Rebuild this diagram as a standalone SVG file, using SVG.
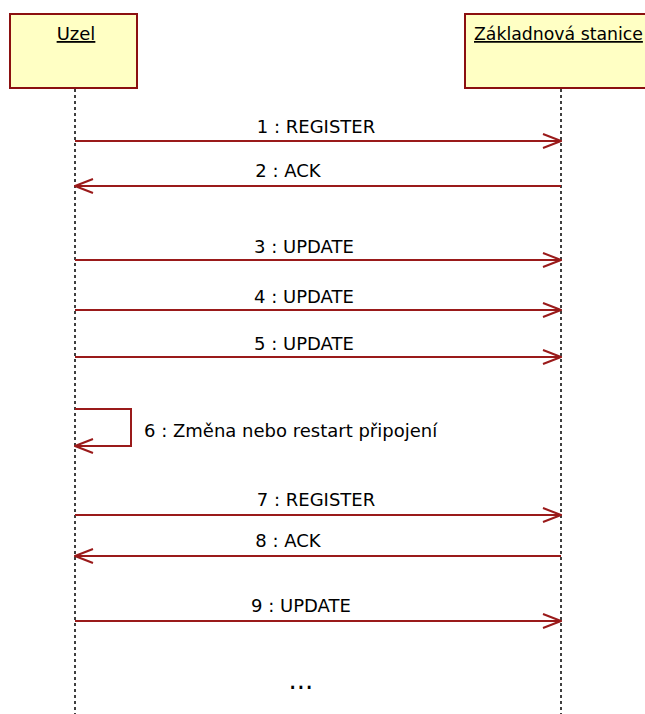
<svg xmlns="http://www.w3.org/2000/svg" width="645" height="714" viewBox="0 0 645 714">
<style>
.box{fill:#FFFFC4;stroke:#8B1010;stroke-width:2}
.life{stroke:#000;stroke-width:1.5;stroke-dasharray:3,3;fill:none}
.msg{stroke:#9A1A1A;stroke-width:2;fill:none}
.t{font-family:"DejaVu Sans",Verdana,sans-serif;font-size:18px;fill:#000}
.title{font-family:"DejaVu Sans",Verdana,sans-serif;font-size:18px;fill:#000;text-decoration:underline}
</style>
<defs>
<marker id="ah" viewBox="0 0 20 16" refX="19" refY="8" markerWidth="20" markerHeight="16" markerUnits="userSpaceOnUse" orient="auto">
<path d="M1,1 L19,8 L1,15" fill="none" stroke="#9A1A1A" stroke-width="2"/>
</marker>
</defs>
<rect width="645" height="714" fill="#fff"/>
<g id="lifelines">
<line class="life" x1="75" y1="89" x2="75" y2="714"/>
<line class="life" x1="561" y1="89" x2="561" y2="714"/>
</g>
<g id="uzel">
<rect class="box" x="10" y="14" width="127" height="74"/>
<text class="title" x="76" y="40" text-anchor="middle">Uzel</text>
</g>
<g id="zakladnova">
<rect class="box" x="465" y="14" width="190" height="74"/>
<text class="title" x="474" y="40" style="font-size:17.3px">Základnová stanice</text>
</g>
<g id="connectors">
<line class="msg" x1="75" y1="141" x2="561" y2="141" marker-end="url(#ah)"/>
<line class="msg" x1="561" y1="186" x2="75" y2="186" marker-end="url(#ah)"/>
<line class="msg" x1="75" y1="260" x2="561" y2="260" marker-end="url(#ah)"/>
<line class="msg" x1="75" y1="310" x2="561" y2="310" marker-end="url(#ah)"/>
<line class="msg" x1="75" y1="357" x2="561" y2="357" marker-end="url(#ah)"/>
<polyline class="msg" points="75,409 131,409 131,446 75,446" marker-end="url(#ah)"/>
<line class="msg" x1="75" y1="515" x2="561" y2="515" marker-end="url(#ah)"/>
<line class="msg" x1="561" y1="556" x2="75" y2="556" marker-end="url(#ah)"/>
<line class="msg" x1="75" y1="621" x2="561" y2="621" marker-end="url(#ah)"/>
</g>
<g id="labels">
<text class="t" x="316" y="133" text-anchor="middle">1 : REGISTER</text>
<text class="t" x="288" y="177" text-anchor="middle">2 : ACK</text>
<text class="t" x="304" y="253" text-anchor="middle">3 : UPDATE</text>
<text class="t" x="304" y="303" text-anchor="middle">4 : UPDATE</text>
<text class="t" x="304" y="350" text-anchor="middle">5 : UPDATE</text>
<text class="t" x="144" y="437">6 : Změna nebo restart připojení</text>
<text class="t" x="316" y="506" text-anchor="middle">7 : REGISTER</text>
<text class="t" x="288" y="547" text-anchor="middle">8 : ACK</text>
<text class="t" x="301" y="612" text-anchor="middle">9 : UPDATE</text>
<text class="t" x="301" y="689" text-anchor="middle" style="font-size:26px">...</text>
</g>
</svg>
